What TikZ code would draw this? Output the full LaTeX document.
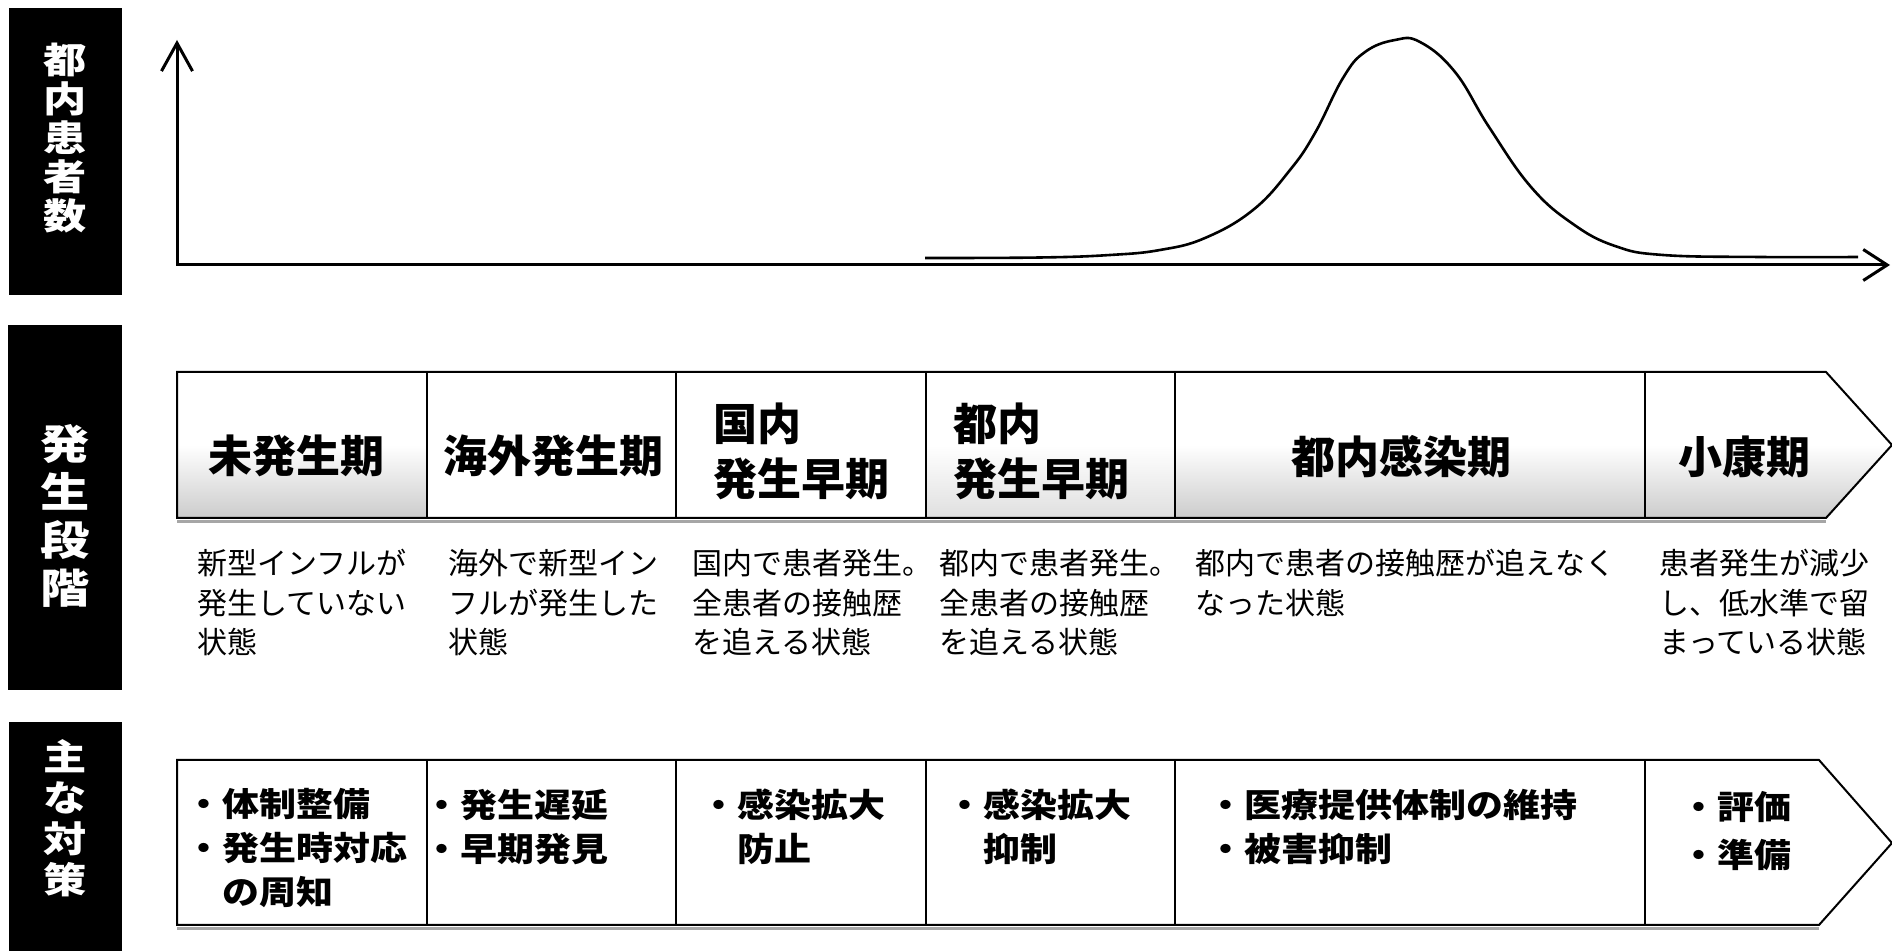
\documentclass[tikz,border=0pt]{standalone}
\usepackage{fontspec}
\setmainfont{Noto Sans CJK JP}
\newfontfamily\boxfont[FakeStretch=1.2]{Noto Sans CJK JP}
\newfontfamily\actfont[FakeStretch=1.12]{Noto Sans CJK JP}
\usetikzlibrary{arrows.meta}

\begin{document}
\begin{tikzpicture}[x=0.5pt,y=-0.5pt]

	% INPUTS (positions in pixels of the page)
	
	\newcommand{\stagetop}{372}			% top of the stage arrow
	\newcommand{\stagebot}{518}			% bottom of the stage arrow
	\newcommand{\stagetip}{445}			% height of the tip of the stage arrow
	\newcommand{\acttop}{760}				% top of the measure arrow
	\newcommand{\actbot}{925}				% bottom of the measure arrow
	\newcommand{\acttip}{843}				% height of the tip of the measure arrow
	% Note: a node of several lines sits on the baseline of its last line
	
	\useasboundingbox (0,0) rectangle (1892,951);
	
	% styles
	\tikzstyle{blackbox}=[fill=black];
	\tikzstyle{boxlabel}=[text=white,align=center,inner sep=0pt];
	\tikzstyle{axis}=[line width=1.5pt,line join=miter,{Straight Barb[length=14pt,width=15.5pt]}-{Straight Barb[length=12pt,width=15.5pt]}];
	\tikzstyle{curve}=[line width=1.3pt,line join=round];
	\tikzstyle{rowoutline}=[line width=1pt,line join=miter];
	\tikzstyle{divider}=[line width=0.7pt];
	\tikzstyle{shadowline}=[gray!70,line width=1.5pt];
	\tikzstyle{stipple}=[top color=white,bottom color=gray!40,middle color=white];
	\tikzstyle{stagetitle}=[inner sep=0pt,align=left,font=\bfseries\fontsize{22}{27.5}\selectfont];
	\tikzstyle{stagetext}=[inner sep=0pt,align=left,font=\fontsize{15}{19.75}\selectfont];
	\tikzstyle{measure}=[inner sep=0pt,align=left,font=\actfont\bfseries\fontsize{16.5}{22}\selectfont];
	
	% black boxes on the left
	\fill[blackbox] (9,8) rectangle (122,295);
	\node[boxlabel,anchor=base,font=\boxfont\bfseries\fontsize{18}{19.5}\selectfont] (countlabel) at (65.5,230) {都\\内\\患\\者\\数};
	
	\fill[blackbox] (8,325) rectangle (122,690);
	\node[boxlabel,anchor=base,font=\boxfont\bfseries\fontsize{20.5}{24}\selectfont] (stagelabel) at (65,604) {発\\生\\段\\階};
	
	\fill[blackbox] (9,722) rectangle (122,951);
	\node[boxlabel,anchor=base,font=\boxfont\bfseries\fontsize{18}{20.5}\selectfont] (measurelabel) at (65.5,893) {主\\な\\対\\策};
	
	% axes and number of patients
	\coordinate (origin) at (177,265);
	\coordinate (ytip) at (177,40);
	\coordinate (xtip) at (1890,265);
	\draw[axis] (ytip) -- (origin) -- (xtip);
	
	\draw[curve] plot[smooth,tension=0.7] coordinates {(925,258) (1040,257.5) (1110,255) (1160,250) (1205,238) (1253,210) (1290,170) (1315,133) (1343,78) (1365,52) (1395,40) (1420,42) (1455,72) (1489,127) (1531,187) (1573,224) (1615,246) (1663,255) (1760,257) (1858,257)};
	
	% drawing the stage arrow
	\shade[stipple] (177,\stagetop) rectangle (427,\stagebot);
	\shade[top color=white,bottom color=gray!25,middle color=white] (926,\stagetop) rectangle (1175,\stagebot);
	\shade[stipple] (1175,\stagetop) rectangle (1645,\stagebot);
	\shade[stipple] (1645,\stagetop) -- (1826,\stagetop) -- (1892,\stagetip) -- (1826,\stagebot) -- (1645,\stagebot) -- cycle;
	\draw[shadowline] (177,522) -- (1826,522);
	\draw[rowoutline] (177,\stagetop) -- (1826,\stagetop) -- (1892,\stagetip) -- (1826,\stagebot) -- (177,\stagebot) -- cycle;
	
	% drawing the measure arrow
	\draw[shadowline] (177,929) -- (1819,929);
	\draw[rowoutline,fill=white] (177,\acttop) -- (1819,\acttop) -- (1892,\acttip) -- (1819,\actbot) -- (177,\actbot) -- cycle;
	
	\foreach \xdiv in {427,676,926,1175,1645}
	{
		\draw[divider] (\xdiv,\stagetop) -- (\xdiv,\stagebot);
		\draw[divider] (\xdiv,\acttop) -- (\xdiv,\actbot);
	}
	
	% stage names
	\node[stagetitle,anchor=base] (stage1) at (296,473) {未発生期};
	\node[stagetitle,anchor=base] (stage2) at (553,473) {海外発生期};
	\node[stagetitle,anchor=base west] (stage3) at (713,496) {国内\\発生早期};
	\node[stagetitle,anchor=base west] (stage4) at (953,496) {都内\\発生早期};
	\node[stagetitle,anchor=base] (stage5) at (1401,474) {都内感染期};
	\node[stagetitle,anchor=base] (stage6) at (1744,474) {小康期};
	
	% what each stage means
	\node[stagetext,anchor=base west] (desc1) at (197,654) {新型インフルが\\発生していない\\状態};
	\node[stagetext,anchor=base west] (desc2) at (448,654) {海外で新型イン\\フルが発生した\\状態};
	\node[stagetext,anchor=base west] (desc3) at (692,654) {国内で患者発生。\\全患者の接触歴\\を追える状態};
	\node[stagetext,anchor=base west] (desc4) at (939,654) {都内で患者発生。\\全患者の接触歴\\を追える状態};
	\node[stagetext,anchor=base west] (desc5) at (1195,614.5) {都内で患者の接触歴が追えなく\\なった状態};
	\node[stagetext,anchor=base west] (desc6) at (1659,654) {患者発生が減少\\し、低水準で留\\まっている状態};
	
	% main measures
	\node[measure,anchor=base west] (act1) at (185,905) {・体制整備\\・発生時対応\\\phantom{・}の周知};
	\node[measure,anchor=base west] (act2) at (423,862) {・発生遅延\\・早期発見};
	\node[measure,anchor=base west] (act3) at (700,862) {・感染拡大\\\phantom{・}防止};
	\node[measure,anchor=base west] (act4) at (946,862) {・感染拡大\\\phantom{・}抑制};
	\node[measure,anchor=base west] (act5) at (1207,862) {・医療提供体制の維持\\・被害抑制};
	\node[measure,anchor=base west,font=\actfont\bfseries\fontsize{16.5}{24}\selectfont] (act6) at (1680,868) {・評価\\・準備};

\end{tikzpicture}
\end{document}
